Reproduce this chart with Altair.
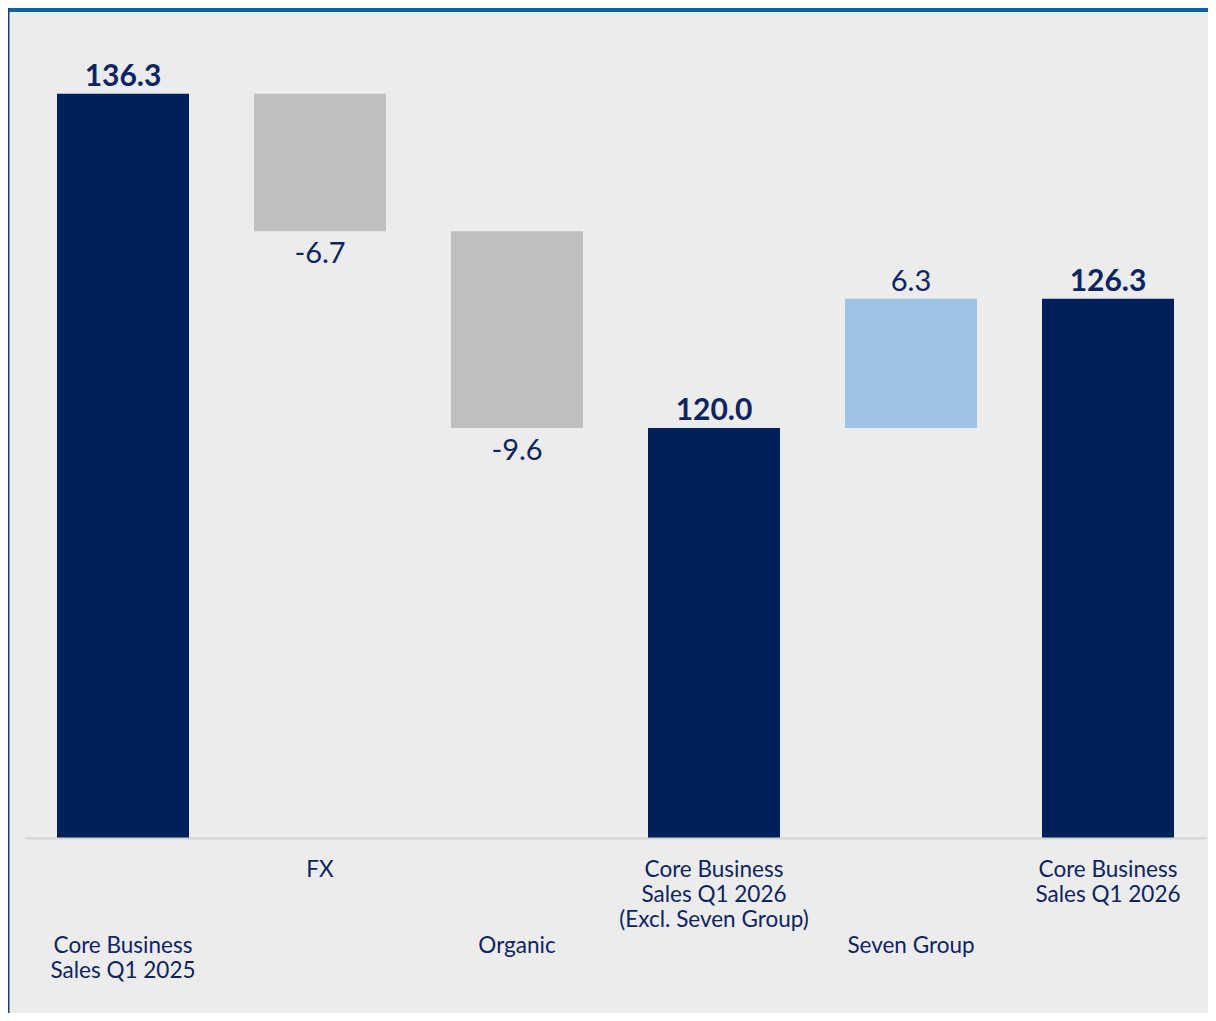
import altair as alt
import pandas as pd

categories = [
    "Core Business\nSales Q1 2025",
    "FX",
    "Organic",
    "Core Business\nSales Q1 2026\n(Excl. Seven Group)",
    "Seven Group",
    "Core Business\nSales Q1 2026",
]
values = [136.3, -6.7, -9.6, 120.0, 6.3, 126.3]
kinds = ["total", "delta", "delta", "total", "delta", "total"]
label_row = ["low", "high", "low", "high", "low", "high"]
value_labels = ["136.3", "-6.7", "-9.6", "120.0", "6.3", "126.3"]

AXIS_MIN = 100
AXIS_MAX = 140

NAVY = "#00205b"
TEXT = "#0d2462"
GRAY = "#bfbfbf"
LIGHT_BLUE = "#9dc3e6"

rows = []
running = 0.0
for i, (c, v, k) in enumerate(zip(categories, values, kinds)):
    if k == "total":
        start, end = AXIS_MIN, v
        running = v
        color = "total"
    else:
        start, end = running, running + v
        running = end
        color = "neg" if v < 0 else "pos"
    rows.append(dict(cat=c, idx=i, start=start, end=end, kind=k, color=color,
                     label=value_labels[i], row=label_row[i],
                     top=max(start, end), bottom=min(start, end), base=AXIS_MIN))
df = pd.DataFrame(rows)

FONT = "Lato"

x = alt.X("cat:N", sort=categories,
          scale=alt.Scale(paddingInner=0.33, paddingOuter=0.165),
          axis=alt.Axis(labels=False, ticks=False, title=None, domain=True,
                        domainColor="#d3d3d3", domainWidth=2, zindex=1))
yscale = alt.Scale(domain=[AXIS_MIN, AXIS_MAX], nice=False, zero=False)

base = alt.Chart(df)

bars = base.mark_bar(size=132).encode(
    x=x,
    y=alt.Y("start:Q", scale=yscale, axis=None),
    y2="end:Q",
    color=alt.Color("color:N", scale=alt.Scale(domain=["total", "neg", "pos"],
                                               range=[NAVY, GRAY, LIGHT_BLUE]), legend=None),
)

total_labels = base.transform_filter("datum.kind == 'total'").mark_text(
    font=FONT, fontSize=30, fontWeight="bold", color=TEXT, baseline="alphabetic", dy=-8
).encode(x=alt.X("cat:N", sort=categories), y=alt.Y("top:Q", scale=yscale), text="label:N")

neg_labels = base.transform_filter("datum.kind == 'delta' && datum.end < datum.start").mark_text(
    font=FONT, fontSize=29, color=TEXT, baseline="top", dy=9
).encode(x=alt.X("cat:N", sort=categories), y=alt.Y("bottom:Q", scale=yscale), text="label:N")

pos_labels = base.transform_filter("datum.kind == 'delta' && datum.end > datum.start").mark_text(
    font=FONT, fontSize=29, color=TEXT, baseline="alphabetic", dy=-8
).encode(x=alt.X("cat:N", sort=categories), y=alt.Y("top:Q", scale=yscale), text="label:N")

cat_high = base.transform_filter("datum.row == 'high'").mark_text(
    font=FONT, fontSize=22.5, color=TEXT, baseline="top", dy=21, lineBreak="\n", lineHeight=25
).encode(x=alt.X("cat:N", sort=categories), y=alt.Y("base:Q", scale=yscale), text="cat:N")

cat_low = base.transform_filter("datum.row == 'low'").mark_text(
    font=FONT, fontSize=22.5, color=TEXT, baseline="top", dy=97, lineBreak="\n", lineHeight=25
).encode(x=alt.X("cat:N", sort=categories), y=alt.Y("base:Q", scale=yscale), text="cat:N")

frame_top = alt.Chart(pd.DataFrame({"a": [0]})).mark_rule(color="#0b63a8", strokeWidth=4).encode(
    x=alt.value(-17), x2=alt.value(1200), y=alt.value(-8))
frame_left = alt.Chart(pd.DataFrame({"a": [0]})).mark_rule(color="#1b3a85", strokeWidth=2).encode(
    x=alt.value(-16), y=alt.value(-10), y2=alt.value(1010))

chart = alt.layer(bars, total_labels, neg_labels, pos_labels, cat_high, cat_low,
                  frame_top, frame_left).properties(
    width=1182, height=820,
    padding={"left": 16.5, "top": 10, "right": 1, "bottom": 175},
    autosize="none",
).configure(background="#ececec").configure_view(stroke=None)

chart.save("out.html", embed_options={"renderer": "svg", "actions": False})
